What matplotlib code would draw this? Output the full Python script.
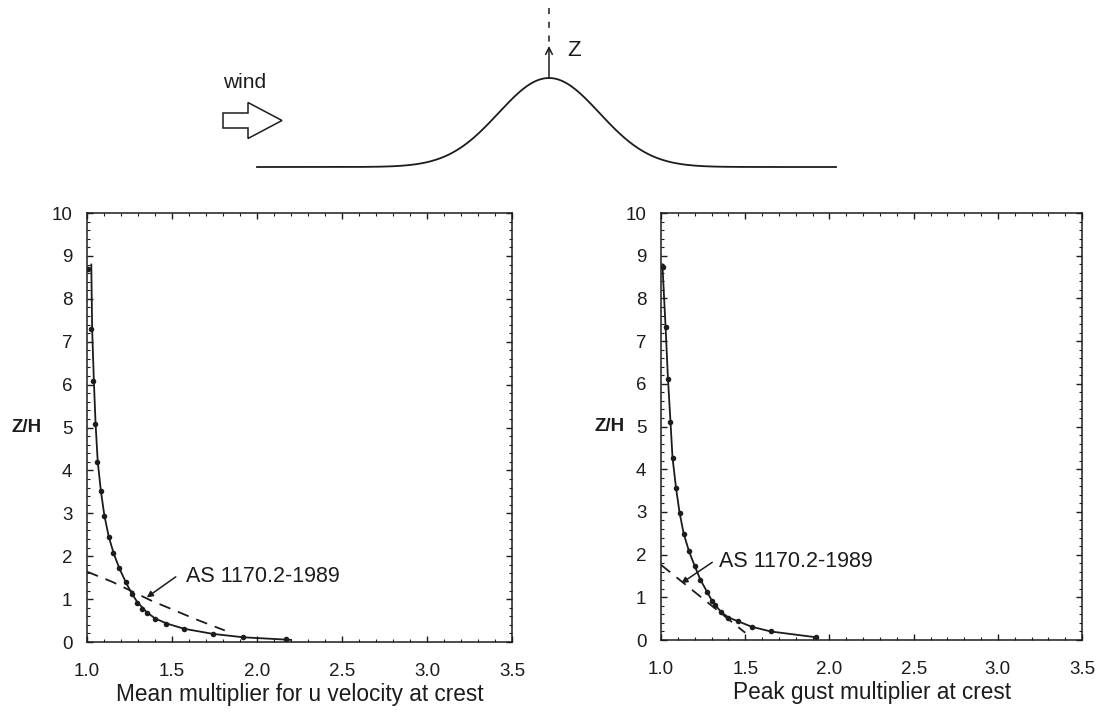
import matplotlib
matplotlib.use("Agg")
import matplotlib.pyplot as plt
from matplotlib.ticker import MultipleLocator, FormatStrFormatter
from matplotlib.patches import FancyArrow
import numpy as np

plt.rcParams['font.family'] = ['Liberation Sans', 'DejaVu Sans']
INK = '#1c1c1c'

# --- data ---
# left panel: mean multiplier for u velocity at crest
mean_pts_x = [1.003, 1.022, 1.033, 1.047, 1.061, 1.082, 1.100, 1.129, 1.155, 1.190,
              1.228, 1.263, 1.296, 1.322, 1.351, 1.400, 1.465, 1.573, 1.739, 1.920, 2.170]
mean_pts_z = [8.70, 7.30, 6.08, 5.08, 4.20, 3.53, 2.94, 2.45, 2.07, 1.72,
              1.39, 1.13, 0.92, 0.78, 0.67, 0.53, 0.42, 0.30, 0.18, 0.11, 0.06]
mean_fit_x = [1.025, 1.030, 1.040, 1.050, 1.063, 1.082, 1.102, 1.128, 1.158, 1.190,
              1.225, 1.260, 1.296, 1.350, 1.400, 1.470, 1.570, 1.740, 1.920, 2.200]
mean_fit_z = [8.80, 7.30, 6.10, 5.10, 4.20, 3.50, 2.95, 2.45, 2.05, 1.72,
              1.42, 1.15, 0.93, 0.70, 0.55, 0.43, 0.31, 0.19, 0.11, 0.05]
mean_code_x = [1.00, 1.15, 1.375, 1.64, 1.81]
mean_code_z = [1.64, 1.40, 0.97, 0.53, 0.27]

# right panel: peak gust multiplier at crest
gust_pts_x = [1.012, 1.027, 1.041, 1.056, 1.068, 1.089, 1.110, 1.135, 1.166, 1.199,
              1.234, 1.273, 1.304, 1.323, 1.358, 1.400, 1.456, 1.539, 1.652, 1.920]
gust_pts_z = [8.74, 7.32, 6.12, 5.11, 4.27, 3.56, 2.98, 2.48, 2.08, 1.74,
              1.41, 1.13, 0.91, 0.81, 0.65, 0.52, 0.44, 0.31, 0.20, 0.07]
gust_fit_x = [1.008, 1.027, 1.041, 1.056, 1.068, 1.089, 1.110, 1.135, 1.166, 1.199,
              1.234, 1.273, 1.304, 1.330, 1.358, 1.400, 1.456, 1.539, 1.652, 1.930]
gust_fit_z = [8.80, 7.32, 6.12, 5.11, 4.27, 3.56, 2.98, 2.48, 2.08, 1.74,
              1.41, 1.13, 0.91, 0.78, 0.65, 0.53, 0.44, 0.31, 0.20, 0.06]
gust_code_x = [1.00, 1.50]
gust_code_z = [1.76, 0.17]

code_label = "AS 1170.2-1989"
xlabels = ["Mean multiplier for u velocity at crest", "Peak gust multiplier at crest"]
# text anchor, arrow start, arrow end (data coords)
label_pos = [(1.583, 1.53), (1.346, 1.85)]
arrow_from = [(1.522, 1.52), (1.304, 1.82)]
arrow_to = [(1.351, 1.04), (1.120, 1.33)]
zh_offset = [-0.108, -0.087]

fig = plt.figure(figsize=(11.06, 7.14), dpi=100)

# top schematic, drawn in pixel coordinates of the figure
top = fig.add_axes([0, 0, 1, 1], zorder=0)
top.set_xlim(0, 1106)
top.set_ylim(714, 0)
top.axis('off')
crest_x, crest_y, base_y, sigma = 549, 78, 167, 50.5
hx = np.linspace(257, 836, 600)
hy = base_y - (base_y - crest_y) * np.exp(-(hx - crest_x) ** 2 / (2 * sigma ** 2))
top.plot(hx, hy, color=INK, lw=1.3)
top.annotate('', xy=(crest_x, 46), xytext=(crest_x, crest_y),
             arrowprops=dict(arrowstyle='->', lw=1.1, color=INK, shrinkA=0, shrinkB=0,
                             mutation_scale=12))
top.plot([crest_x, crest_x], [8, 42], color=INK, lw=1.1, ls=(0, (4, 5)))
top.text(567, 51, "Z", fontsize=16, va='center', ha='left', color=INK)
top.text(223, 88, "wind", fontsize=15, va='baseline', ha='left', color=INK)
top.add_patch(FancyArrow(223, 120.5, 59, 0, width=15, head_width=36, head_length=34,
                         length_includes_head=True, fill=False, ec=INK, lw=1.1))

panels = [
    ([0.0787, 0.1008, 0.3843, 0.6008], mean_pts_x, mean_pts_z, mean_fit_x, mean_fit_z,
     mean_code_x, mean_code_z),
    ([0.5977, 0.1036, 0.3807, 0.5980], gust_pts_x, gust_pts_z, gust_fit_x, gust_fit_z,
     gust_code_x, gust_code_z),
]

for i, (rect, px, pz, fx, fz, cx, cz) in enumerate(panels):
    ax = fig.add_axes(rect, zorder=1)
    ax.patch.set_alpha(0)
    ax.plot(fx, fz, color=INK, lw=1.3)
    ax.plot(px, pz, 'o', color=INK, ms=4, mew=0)
    ax.plot(cx, cz, color=INK, lw=1.3, ls=(0, (6.5, 4.5)))
    ax.text(label_pos[i][0], label_pos[i][1], code_label, fontsize=15.5,
            ha='left', va='center', color=INK)
    ax.annotate('', xy=arrow_to[i], xytext=arrow_from[i],
                arrowprops=dict(arrowstyle='-|>', lw=1.1, color=INK, shrinkA=0,
                                shrinkB=0, mutation_scale=9))
    ax.set_xlim(1.0, 3.5)
    ax.set_ylim(0, 10)
    ax.xaxis.set_major_locator(MultipleLocator(0.5))
    ax.xaxis.set_minor_locator(MultipleLocator(0.1))
    ax.xaxis.set_major_formatter(FormatStrFormatter('%.1f'))
    ax.yaxis.set_major_locator(MultipleLocator(1))
    ax.yaxis.set_minor_locator(MultipleLocator(0.2))
    ax.tick_params(which='both', direction='in', top=True, right=True, colors=INK,
                   labelsize=13.5)
    ax.tick_params(which='major', length=4, width=1.0)
    ax.tick_params(which='minor', length=2.3, width=0.8)
    ax.tick_params(axis='x', pad=15)
    ax.tick_params(axis='y', pad=10.5)
    for s in ax.spines.values():
        s.set_linewidth(1.1)
        s.set_color(INK)
    ax.set_xlabel(xlabels[i], fontsize=16.3, color=INK, labelpad=2)
    ax.text(zh_offset[i], 0.5, "Z/H", transform=ax.transAxes, fontsize=13.5,
            fontweight='bold', ha='right', va='center', color=INK)

fig.savefig("out.png", dpi=100, facecolor='white')
